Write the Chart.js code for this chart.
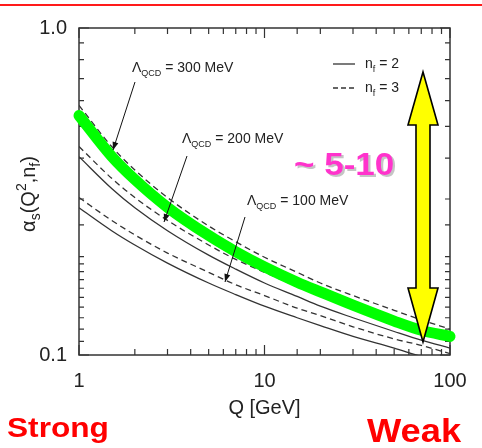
<!DOCTYPE html>
<html><head><meta charset="utf-8">
<script src="https://cdn.jsdelivr.net/npm/chart.js@4"></script>
<style>html,body{margin:0;padding:0;background:#fff;}#wrap{width:482px;height:448px;}</style>
</head><body><div id="wrap"><canvas id="c" width="482" height="448"></canvas></div>
<script>
// ---- data ----
const Q = [1, 1.5, 2, 3, 5, 7, 10, 15, 20, 30, 50, 70, 100];
const L300nf3 = [0.580, 0.434, 0.368, 0.303, 0.248, 0.222, 0.199, 0.179, 0.166, 0.152, 0.137, 0.128, 0.120];
const L300nf2 = [0.540, 0.404, 0.343, 0.282, 0.231, 0.206, 0.185, 0.166, 0.155, 0.141, 0.127, 0.119, 0.112];
const L200nf3 = [0.434, 0.347, 0.303, 0.258, 0.217, 0.196, 0.179, 0.162, 0.152, 0.139, 0.126, 0.119, 0.112];
const L200nf2 = [0.404, 0.323, 0.282, 0.240, 0.202, 0.183, 0.166, 0.151, 0.141, 0.130, 0.118, 0.111, 0.105];
const L100nf3 = [0.303, 0.258, 0.233, 0.205, 0.179, 0.164, 0.152, 0.139, 0.132, 0.122, 0.112, 0.107, 0.101];
const L100nf2 = [0.282, 0.240, 0.217, 0.191, 0.166, 0.153, 0.141, 0.130, 0.123, 0.114, 0.105, 0.099, 0.094];
const greenBand = [0.540, 0.405, 0.344, 0.283, 0.232, 0.207, 0.186, 0.167, 0.156, 0.142, 0.127, 0.119, 0.114];
const xTickLabels = [1, 10, 100];
const yTickLabels = [0.1, 1];

const FONT = '"Liberation Sans", Arial, Helvetica, sans-serif';
const pts = arr => Q.map((q, i) => ({x: q, y: arr[i]}));
const isPow10 = v => Math.abs(Math.log10(v) - Math.round(Math.log10(v))) < 1e-6;

function curve(arr, dashed) {
  return {data: pts(arr), borderColor: '#333', borderWidth: 1.3, borderDash: dashed ? [6, 4] : [],
    pointRadius: 0, cubicInterpolationMode: 'monotone', fill: false, order: 1};
}

function rich(ctx, x, y, parts, color) {
  let cx = x;
  ctx.fillStyle = color || '#222';
  ctx.textBaseline = 'alphabetic'; ctx.textAlign = 'left';
  parts.forEach(p => {
    ctx.font = (p.b ? 'bold ' : '') + p.s + 'px ' + FONT;
    ctx.fillText(p.t, cx, y + (p.dy || 0));
    cx += ctx.measureText(p.t).width;
  });
  return cx - x;
}
function richWidth(ctx, parts) {
  let w = 0;
  parts.forEach(p => { ctx.font = p.s + 'px ' + FONT; w += ctx.measureText(p.t).width; });
  return w;
}
function arrow(ctx, x0, y0, x1, y1) {
  ctx.strokeStyle = '#111'; ctx.fillStyle = '#111'; ctx.lineWidth = 1;
  ctx.beginPath(); ctx.moveTo(x0, y0); ctx.lineTo(x1, y1); ctx.stroke();
  const ang = Math.atan2(y1 - y0, x1 - x0), L = 8, W = 3;
  ctx.beginPath();
  ctx.moveTo(x1, y1);
  ctx.lineTo(x1 - L * Math.cos(ang) + W * Math.sin(ang), y1 - L * Math.sin(ang) - W * Math.cos(ang));
  ctx.lineTo(x1 - L * Math.cos(ang) - W * Math.sin(ang), y1 - L * Math.sin(ang) + W * Math.cos(ang));
  ctx.closePath(); ctx.fill();
}
function stretchedText(ctx, txt, x, y, size, sx, color, shadow) {
  ctx.save();
  ctx.translate(x, y); ctx.scale(sx, 1);
  ctx.font = 'bold ' + size + 'px ' + FONT;
  ctx.textAlign = 'left'; ctx.textBaseline = 'alphabetic';
  if (shadow) { ctx.fillStyle = 'rgba(150,150,150,0.55)'; ctx.fillText(txt, 2, 2); }
  ctx.fillStyle = color; ctx.fillText(txt, 0, 0);
  ctx.restore();
}

const deco = {
  id: 'deco',
  beforeDraw(chart) {
    const ctx = chart.ctx;
    ctx.save();
    ctx.fillStyle = '#fff'; ctx.fillRect(0, 0, chart.width, chart.height);
    ctx.strokeStyle = '#ff1a1a'; ctx.lineWidth = 2;
    ctx.beginPath(); ctx.moveTo(0, 5); ctx.lineTo(chart.width, 5); ctx.stroke();
    ctx.restore();
  },
  beforeDatasetsDraw(chart) {
    const {ctx, chartArea: a, scales: {x, y}} = chart;
    ctx.save();
    ctx.strokeStyle = '#333'; ctx.lineWidth = 1.5;
    ctx.strokeRect(a.left, a.top, a.right - a.left, a.bottom - a.top);
    ctx.lineWidth = 1.2; ctx.beginPath();
    x.ticks.forEach(t => {
      const px = x.getPixelForValue(t.value), len = isPow10(t.value) ? 10 : 6;
      ctx.moveTo(px, a.bottom); ctx.lineTo(px, a.bottom - len);
      ctx.moveTo(px, a.top); ctx.lineTo(px, a.top + len);
    });
    y.ticks.forEach(t => {
      const py = y.getPixelForValue(t.value), len = isPow10(t.value) ? 10 : 5;
      ctx.moveTo(a.left, py); ctx.lineTo(a.left + len, py);
      ctx.moveTo(a.right, py); ctx.lineTo(a.right - len, py);
    });
    ctx.stroke();
    ctx.restore();
  },
  afterDatasetsDraw(chart) {
    const ctx = chart.ctx;
    ctx.save();
    // Lambda labels
    const lam = v => [{t: 'Λ', s: 14}, {t: 'QCD', s: 9, dy: 4}, {t: ' = ' + v + ' MeV', s: 14}];
    rich(ctx, 132, 72, lam(300));
    rich(ctx, 182, 143, lam(200));
    rich(ctx, 247, 205, lam(100));
    arrow(ctx, 135, 82, 113, 150);
    arrow(ctx, 187, 156, 164, 222);
    arrow(ctx, 245, 217, 225, 282);
    // legend
    ctx.strokeStyle = '#333'; ctx.lineWidth = 1.3;
    ctx.beginPath(); ctx.moveTo(333, 64); ctx.lineTo(355, 64); ctx.stroke();
    ctx.setLineDash([5, 3]);
    ctx.beginPath(); ctx.moveTo(333, 88); ctx.lineTo(356, 88); ctx.stroke();
    ctx.setLineDash([]);
    rich(ctx, 365, 68, [{t: 'n', s: 14}, {t: 'f', s: 9, dy: 4}, {t: ' = 2', s: 14}]);
    rich(ctx, 365, 92, [{t: 'n', s: 14}, {t: 'f', s: 9, dy: 4}, {t: ' = 3', s: 14}]);
    // ~5-10
    stretchedText(ctx, '~ 5-10', 294, 175, 31, 1.13, '#ff33cc', true);
    // yellow double arrow
    const cx = 423, top = 72, bot = 342, hb1 = 125, hb2 = 288, hw = 15, sw = 7;
    ctx.beginPath();
    ctx.moveTo(cx, top);
    ctx.lineTo(cx + hw, hb1); ctx.lineTo(cx + sw, hb1); ctx.lineTo(cx + sw, hb2); ctx.lineTo(cx + hw, hb2);
    ctx.lineTo(cx, bot);
    ctx.lineTo(cx - hw, hb2); ctx.lineTo(cx - sw, hb2); ctx.lineTo(cx - sw, hb1); ctx.lineTo(cx - hw, hb1);
    ctx.closePath();
    ctx.fillStyle = '#ffff00'; ctx.fill();
    ctx.strokeStyle = '#000'; ctx.lineWidth = 1.6; ctx.lineJoin = 'miter'; ctx.stroke();
    ctx.restore();
  },
  afterDraw(chart) {
    const ctx = chart.ctx;
    ctx.save();
    // y axis title
    const parts = [{t: 'α', s: 20}, {t: 's', s: 14, dy: 5}, {t: '(Q', s: 20}, {t: '2', s: 14, dy: -9},
                   {t: ',n', s: 20}, {t: 'f', s: 14, dy: 5}, {t: ')', s: 20}];
    const w = richWidth(ctx, parts);
    ctx.translate(35, 194); ctx.rotate(-Math.PI / 2);
    rich(ctx, -w / 2, 0, parts, '#222');
    ctx.restore();
    stretchedText(ctx, 'Strong', 7, 437, 28, 1.13, '#ff0000', false);
    stretchedText(ctx, 'Weak', 367, 442, 33, 1.1, '#ff0000', false);
  }
};

new Chart(document.getElementById('c'), {
  type: 'line',
  data: {
    datasets: [
      {data: pts(greenBand), borderColor: '#00ff00', borderWidth: 11, borderCapStyle: 'round',
        pointRadius: 0, cubicInterpolationMode: 'monotone', fill: false, order: 0, clip: false},
      curve(L300nf3, true), curve(L300nf2, false),
      curve(L200nf3, true), curve(L200nf2, false),
      curve(L100nf3, true), curve(L100nf2, false)
    ]
  },
  options: {
    responsive: false, animation: false, devicePixelRatio: 1,
    layout: {padding: {left: 0, right: 32, top: 28, bottom: 0}},
    plugins: {legend: {display: false}, tooltip: {enabled: false}, title: {display: false}},
    scales: {
      x: {
        type: 'logarithmic', min: 1, max: 100,
        grid: {display: false, drawTicks: false}, border: {display: false},
        ticks: {autoSkip: false, maxRotation: 0, padding: 14, color: '#222', font: {family: FONT, size: 20},
          callback: v => xTickLabels.some(t => Math.abs(t - v) < 1e-9) ? String(v) : ''},
        title: {display: true, text: 'Q [GeV]', color: '#222', font: {family: FONT, size: 20},
          padding: {top: 0, bottom: 28}},
        afterFit: s => { s.height = 93; }
      },
      y: {
        type: 'logarithmic', min: 0.1, max: 1,
        grid: {display: false, drawTicks: false}, border: {display: false},
        ticks: {autoSkip: false, padding: 12, color: '#222', font: {family: FONT, size: 20},
          callback: v => yTickLabels.some(t => Math.abs(t - v) < 1e-9) ? v.toFixed(1) : ''},
        afterFit: s => { s.width = 79; }
      }
    }
  },
  plugins: [deco]
});
</script></body></html>
